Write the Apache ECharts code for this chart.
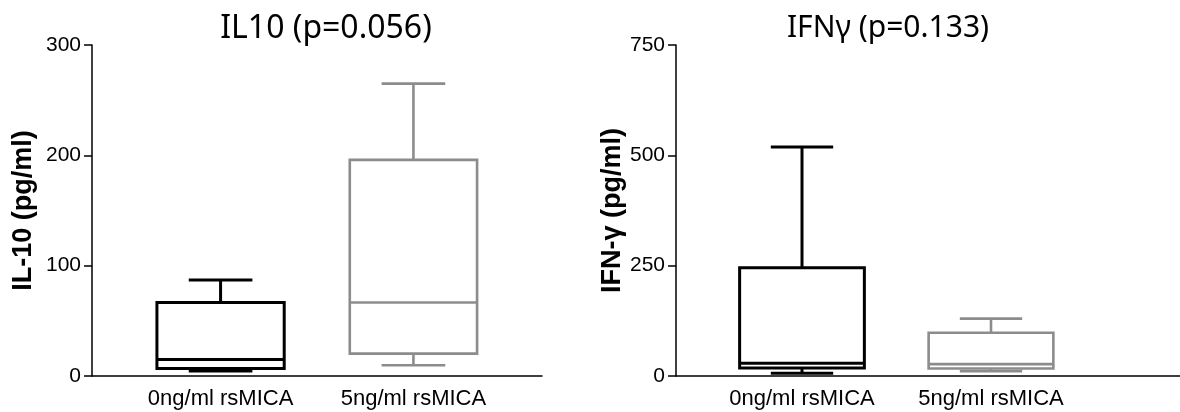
<!DOCTYPE html>
<html>
<head>
<meta charset="utf-8">
<script src="https://cdn.jsdelivr.net/npm/echarts@6/dist/echarts.min.js"></script>
<style>
html,body{margin:0;padding:0;background:#fff;}
#c{width:1180px;height:412px;}
</style>
</head>
<body>
<div id="c"></div>
<script>
// Categories (x positions 1 and 2)
var categories = ['0ng/ml rsMICA', '5ng/ml rsMICA'];
// Box plot values: [min, Q1, median, Q3, max]
var il10Values = [
  [4.5, 6.7, 14.9, 66.6, 86.9],
  [9.7, 20.3, 66.6, 195.9, 265]
];
var ifngValues = [
  [6, 18, 29, 245, 519],
  [11, 17, 27, 98, 130]
];
var titles = ['IL10 (p=0.056)', 'IFN\u03b3 (p=0.133)'];
var yNames = ['IL-10 (pg/ml)', 'IFN-\u03b3 (pg/ml)'];
var il10Ticks = [0, 100, 200, 300];
var ifngTicks = [0, 250, 500, 750];

var boxColors = ['#000000', '#8c8c8c'];
var boxLineWidths = [3, 2.6];

function toData(vals) {
  return vals.map(function (v, i) { return [i + 1].concat(v); });
}

function renderBox(params, api) {
  var i = params.dataIndex;
  var x = api.value(0);
  var mn = api.value(1), q1 = api.value(2), md = api.value(3), q3 = api.value(4), mx = api.value(5);
  var halfW = api.size([0.33, 0])[0];
  var capW = halfW / 2;
  var pMin = api.coord([x, mn]);
  var pQ1 = api.coord([x, q1]);
  var pMd = api.coord([x, md]);
  var pQ3 = api.coord([x, q3]);
  var pMax = api.coord([x, mx]);
  var cx = pMin[0];
  var style = { stroke: boxColors[i], lineWidth: boxLineWidths[i], fill: null };
  return {
    type: 'group',
    children: [
      { type: 'line', shape: { x1: cx, y1: pQ3[1], x2: cx, y2: pMax[1] }, style: style },
      { type: 'line', shape: { x1: cx - capW, y1: pMax[1], x2: cx + capW, y2: pMax[1] }, style: style },
      { type: 'line', shape: { x1: cx, y1: pQ1[1], x2: cx, y2: pMin[1] }, style: style },
      { type: 'line', shape: { x1: cx - capW, y1: pMin[1], x2: cx + capW, y2: pMin[1] }, style: style },
      { type: 'rect', shape: { x: cx - halfW, y: pQ3[1], width: halfW * 2, height: pQ1[1] - pQ3[1] }, style: { stroke: boxColors[i], lineWidth: boxLineWidths[i], fill: '#fff' } },
      { type: 'line', shape: { x1: cx - halfW, y1: pMd[1], x2: cx + halfW, y2: pMd[1] }, style: style }
    ]
  };
}

var axisFont = 'Liberation Sans, Arial, sans-serif';

function xAxisCfg(gridIndex, max) {
  return {
    gridIndex: gridIndex, type: 'value', min: 1 / 3, max: max,
    axisLine: { show: true, lineStyle: { color: '#000', width: 1.5 } },
    axisTick: { show: false },
    splitLine: { show: false },
    axisLabel: {
      customValues: [1, 2],
      margin: 12,
      color: '#000', fontSize: 22, fontFamily: axisFont,
      formatter: function (v) { return categories[Math.round(v) - 1]; }
    }
  };
}
function yAxisCfg(gridIndex, ticks, name, gap) {
  return {
    gridIndex: gridIndex, type: 'value', min: ticks[0], max: ticks[ticks.length - 1],
    interval: ticks[1] - ticks[0],
    name: name, nameLocation: 'middle', nameGap: gap,
    nameTextStyle: { color: '#000', fontSize: 27, fontWeight: 'bold', fontFamily: axisFont },
    axisLine: { show: true, lineStyle: { color: '#000', width: 1.5 } },
    axisTick: { show: true, inside: false, length: 8, lineStyle: { color: '#000', width: 1.5 } },
    splitLine: { show: false },
    axisLabel: { margin: 11, color: '#000', fontSize: 21, fontFamily: axisFont }
  };
}

var chart = echarts.init(document.getElementById('c'), null, { renderer: 'canvas' });
chart.setOption({
  animation: false,
  backgroundColor: '#fff',
  title: [
    { text: titles[0], left: 321, top: 8, textAlign: 'center',
      textStyle: { fontFamily: 'Noto Sans', fontWeight: 'normal', fontSize: 32, color: '#000' } },
    { text: titles[1], left: 883, top: 8, textAlign: 'center',
      textStyle: { fontFamily: 'Noto Sans', fontWeight: 'normal', fontSize: 30, color: '#000' } }
  ],
  grid: [
    { left: 92, top: 45, width: 450, height: 331 },
    { left: 676, top: 45, width: 504, height: 331 }
  ],
  xAxis: [xAxisCfg(0, 8 / 3), xAxisCfg(1, 3)],
  yAxis: [yAxisCfg(0, il10Ticks, yNames[0], 55), yAxisCfg(1, ifngTicks, yNames[1], 47)],
  series: [
    { type: 'custom', xAxisIndex: 0, yAxisIndex: 0, renderItem: renderBox, data: toData(il10Values),
      encode: { x: 0, y: [1, 2, 3, 4, 5] }, clip: false },
    { type: 'custom', xAxisIndex: 1, yAxisIndex: 1, renderItem: renderBox, data: toData(ifngValues),
      encode: { x: 0, y: [1, 2, 3, 4, 5] }, clip: false }
  ]
});
</script>
</body>
</html>
